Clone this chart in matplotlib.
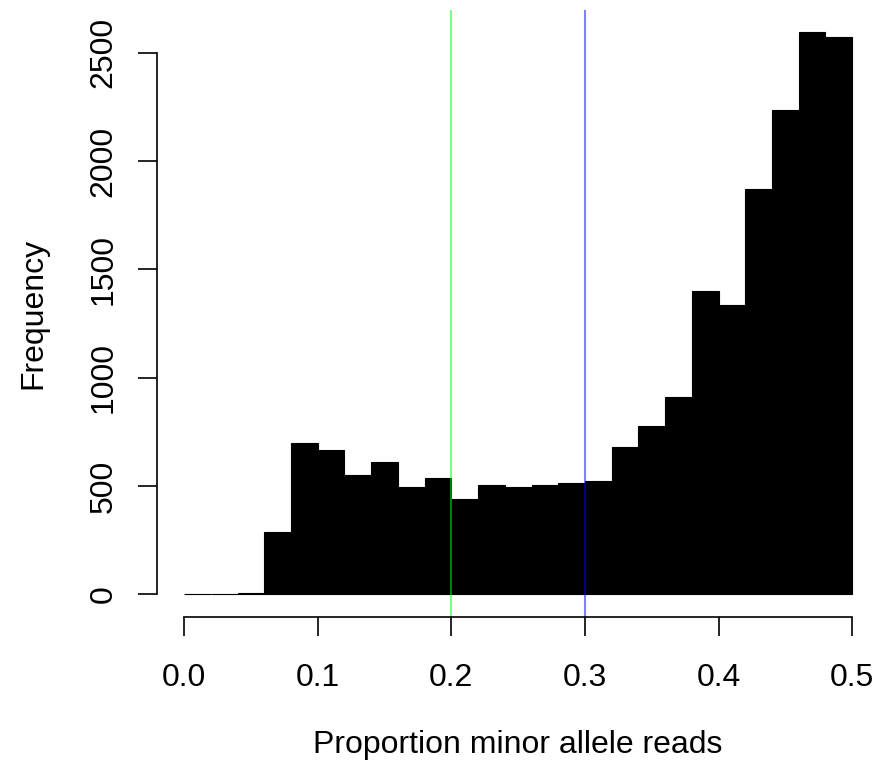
import numpy as np
import matplotlib
matplotlib.use("Agg")
import matplotlib.pyplot as plt

# Settings
plt.rcParams['font.family'] = ['Liberation Sans', 'DejaVu Sans']
font_size = 23

# Histogram of minor allele proportion (bin width 0.02)
bin_edges = [0.00, 0.02, 0.04, 0.06, 0.08, 0.10, 0.12, 0.14, 0.16, 0.18,
             0.20, 0.22, 0.24, 0.26, 0.28, 0.30, 0.32, 0.34, 0.36, 0.38,
             0.40, 0.42, 0.44, 0.46, 0.48, 0.50]
counts = [1, 2, 6, 286, 697, 665, 551, 609, 494, 535,
          439, 503, 494, 503, 512, 522, 678, 775, 909, 1401,
          1335, 1869, 2236, 2594, 2571]
cutoffs = [0.2, 0.3]
cutoff_colors = ['#00ff00', '#0000ff']
x_ticks = [0.0, 0.1, 0.2, 0.3, 0.4, 0.5]
x_tick_labels = ['0.0', '0.1', '0.2', '0.3', '0.4', '0.5']
y_ticks = [0, 500, 1000, 1500, 2000, 2500]

# --------------------------------------------------------------
fig = plt.figure(figsize=(8.8, 7.69), dpi=100)
ax = fig.add_axes([0.1788, 0.1979, 0.8200, 0.7893])

left = np.array(bin_edges[:-1])
widths = np.diff(bin_edges)
ax.bar(left, counts, width=widths, align='edge', color='black',
       edgecolor='black', linewidth=0.8)

for c, col in zip(cutoffs, cutoff_colors):
    ax.axvline(c, color=col, alpha=0.5, linewidth=1.5)

# R-style axes: extend 4% on both sides, axis lines only across ticks
x0, x1 = bin_edges[0], bin_edges[-1]
ymax = max(counts)
ax.set_xlim(x0 - 0.04 * (x1 - x0), x1 + 0.04 * (x1 - x0))
ax.set_ylim(-0.04 * ymax, ymax * 1.04)

for s in ['top', 'right']:
    ax.spines[s].set_visible(False)
ax.spines['bottom'].set_bounds(x_ticks[0], x_ticks[-1])
ax.spines['left'].set_bounds(y_ticks[0], y_ticks[-1])
ax.spines['bottom'].set_linewidth(1.2)
ax.spines['left'].set_linewidth(1.2)

ax.set_xticks(x_ticks)
ax.set_xticklabels(x_tick_labels)
ax.set_yticks(y_ticks)
ax.set_yticklabels([str(v) for v in y_ticks], rotation=90, va='center')
ax.tick_params(axis='both', direction='out', length=14, width=1.2,
               labelsize=font_size)
ax.tick_params(axis='x', pad=19)
ax.tick_params(axis='y', pad=14)

ax.set_xlabel("Proportion minor allele reads", fontsize=font_size, labelpad=27)
ax.set_ylabel("Frequency", fontsize=font_size, labelpad=29)

plt.savefig("out.png", dpi=100)
